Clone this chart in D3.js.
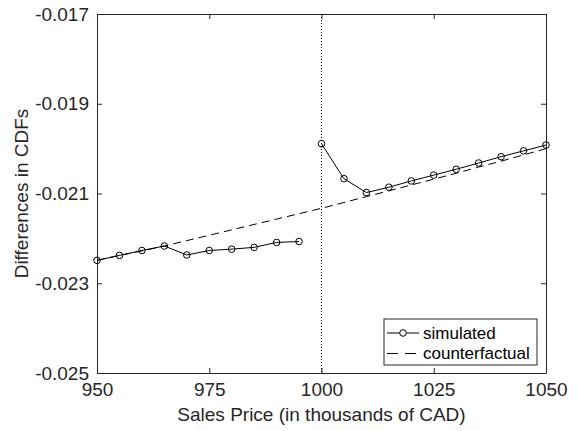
<!DOCTYPE html>
<html>
<head>
<meta charset="utf-8">
<script src="https://cdn.jsdelivr.net/npm/d3@7"></script>
<style>
  body { margin: 0; background: #fff; }
  svg { font-family: "Liberation Sans", Arial, sans-serif; }
  .axis path, .axis line { stroke: #262626; }
  .axis text { fill: #262626; font-size: 19px; }
</style>
</head>
<body>
<svg width="577" height="431"></svg>
<script>
// sales price grid (thousands of CAD)
const priceLeft = [950, 955, 960, 965, 970, 975, 980, 985, 990, 995];
const simLeft = [-0.02249, -0.02238, -0.02227, -0.02217, -0.02237, -0.02227, -0.02224, -0.02220, -0.02209, -0.02207];
const priceRight = [1000, 1005, 1010, 1015, 1020, 1025, 1030, 1035, 1040, 1045, 1050];
const simRight = [-0.01989, -0.02067, -0.02098, -0.02086, -0.02072, -0.02059, -0.02046, -0.02032, -0.02018, -0.02005, -0.01992];
const priceAll = [950, 955, 960, 965, 970, 975, 980, 985, 990, 995, 1000, 1005, 1010, 1015, 1020, 1025, 1030, 1035, 1040, 1045, 1050];
const counterfactual = [-0.02249, -0.02238, -0.02228, -0.02217, -0.02205, -0.02193, -0.02181, -0.02169, -0.02157, -0.02145, -0.02133,
  -0.02120, -0.02107, -0.02094, -0.02081, -0.02068, -0.02055, -0.02041, -0.02028, -0.02014, -0.02000];
const xTicks = [950, 975, 1000, 1025, 1050];
const yTicks = [-0.025, -0.023, -0.021, -0.019, -0.017];
const threshold = 1000;
const legendLabels = ["simulated", "counterfactual"];

const svg = d3.select("svg");
const m = { left: 97, right: 546, top: 14, bottom: 373 };
const tick = 5;

const x = d3.scaleLinear().domain([950, 1050]).range([m.left, m.right]);
const y = d3.scaleLinear().domain([-0.025, -0.017]).range([m.bottom, m.top]);

// inward ticks on all four sides
svg.append("g").attr("class", "axis")
  .attr("transform", `translate(0,${m.bottom})`)
  .call(d3.axisBottom(x).tickValues(xTicks).tickFormat(d3.format("d")).tickSizeInner(-tick).tickSizeOuter(0).tickPadding(10))
  .call(g => g.selectAll("text").attr("dy", "0.71em"));
svg.append("g").attr("class", "axis")
  .attr("transform", `translate(0,${m.top})`)
  .call(d3.axisTop(x).tickValues(xTicks).tickSizeInner(-tick).tickSizeOuter(0).tickFormat(""));
svg.append("g").attr("class", "axis")
  .attr("transform", `translate(${m.left},0)`)
  .call(d3.axisLeft(y).tickValues(yTicks).tickFormat(d3.format(".3f")).tickSizeInner(-tick).tickSizeOuter(0).tickPadding(8));
svg.append("g").attr("class", "axis")
  .attr("transform", `translate(${m.right},0)`)
  .call(d3.axisRight(y).tickValues(yTicks).tickSizeInner(-tick).tickSizeOuter(0).tickFormat(""));
// plain hyphen instead of unicode minus, like the original
svg.selectAll(".axis text").text(function () { return this.textContent.replace("\u2212", "-"); });

// threshold line
svg.append("line")
  .attr("x1", x(threshold)).attr("x2", x(threshold))
  .attr("y1", m.top).attr("y2", m.bottom)
  .attr("stroke", "#000").attr("stroke-width", 1).attr("stroke-dasharray", "1,2");

const line = d3.line().x(d => x(d[0])).y(d => y(d[1]));

svg.append("path")
  .datum(d3.zip(priceAll, counterfactual))
  .attr("d", line)
  .attr("fill", "none").attr("stroke", "#000").attr("stroke-width", 1).attr("stroke-dasharray", "8,5");

[[priceLeft, simLeft], [priceRight, simRight]].forEach(([px, py]) => {
  const pts = d3.zip(px, py);
  svg.append("path").datum(pts).attr("d", line)
    .attr("fill", "none").attr("stroke", "#000").attr("stroke-width", 1);
  svg.append("g").selectAll("circle").data(pts).join("circle")
    .attr("cx", d => x(d[0])).attr("cy", d => y(d[1])).attr("r", 3.3)
    .attr("fill", "none").attr("stroke", "#000").attr("stroke-width", 1);
});

// axis labels
svg.append("text")
  .attr("x", (m.left + m.right) / 2).attr("y", 421)
  .attr("text-anchor", "middle").attr("font-size", 19).attr("fill", "#262626")
  .text("Sales Price (in thousands of CAD)");
svg.append("text")
  .attr("transform", `translate(28,${(m.top + m.bottom) / 2}) rotate(-90)`)
  .attr("text-anchor", "middle").attr("font-size", 19).attr("fill", "#262626")
  .text("Differences in CDFs");

// legend
const lg = svg.append("g").attr("transform", "translate(384,319)");
lg.append("rect").attr("width", 153).attr("height", 46)
  .attr("fill", "#fff").attr("stroke", "#262626").attr("stroke-width", 1);
legendLabels.forEach((name, i) => {
  const ly = 14 + i * 20.5;
  lg.append("line").attr("x1", 3).attr("x2", 35).attr("y1", ly).attr("y2", ly)
    .attr("stroke", "#000").attr("stroke-width", 1)
    .attr("stroke-dasharray", i === 1 ? "11,7" : null);
  if (i === 0) lg.append("circle").attr("cx", 19).attr("cy", ly).attr("r", 3.3)
    .attr("fill", "#fff").attr("stroke", "#000");
  lg.append("text").attr("x", 39).attr("y", ly).attr("dy", "0.35em")
    .attr("font-size", 17).attr("fill", "#000").text(name);
});
</script>
</body>
</html>
